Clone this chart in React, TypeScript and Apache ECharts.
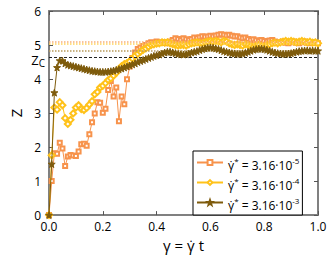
import React, { useEffect, useRef } from "react";
import * as echarts from "echarts";

const strain = [
  0, 0.01, 0.02, 0.03, 0.04, 0.05, 0.06, 0.07, 0.08, 0.09,
  0.1, 0.11, 0.12, 0.13, 0.14, 0.15, 0.16, 0.17, 0.18, 0.19,
  0.2, 0.21, 0.22, 0.23, 0.24, 0.25, 0.26, 0.27, 0.28, 0.29,
  0.3, 0.31, 0.32, 0.33, 0.34, 0.35, 0.36, 0.37, 0.38, 0.39,
  0.4, 0.41, 0.42, 0.43, 0.44, 0.45, 0.46, 0.47, 0.48, 0.49,
  0.5, 0.51, 0.52, 0.53, 0.54, 0.55, 0.56, 0.57, 0.58, 0.59,
  0.6, 0.61, 0.62, 0.63, 0.64, 0.65, 0.66, 0.67, 0.68, 0.69,
  0.7, 0.71, 0.72, 0.73, 0.74, 0.75, 0.76, 0.77, 0.78, 0.79,
  0.8, 0.81, 0.82, 0.83, 0.84, 0.85, 0.86, 0.87, 0.88, 0.89,
  0.9, 0.91, 0.92, 0.93, 0.94, 0.95, 0.96, 0.97, 0.98, 0.99,
  1.0,
];

const zSlow = [
  0, 1.0, 1.82, 1.8, 2.13, 1.96, 1.44, 1.72, 1.77, 1.75,
  1.74, 1.87, 2.08, 2.1, 2.04, 2.38, 2.73, 2.99, 3.32, 3.3,
  3.01, 3.13, 3.68, 3.94, 3.49, 3.75, 2.76, 3.49, 3.26, 3.99,
  4.37, 4.62, 4.78, 4.88, 4.93, 4.97, 5.0, 5.05, 5.08, 5.05,
  5.1, 5.08, 5.06, 5.08, 5.05, 5.1, 5.15, 5.2, 5.18, 5.15,
  5.2, 5.17, 5.15, 5.18, 5.22, 5.2, 5.23, 5.26, 5.24, 5.25,
  5.27, 5.25, 5.28, 5.3, 5.32, 5.3, 5.28, 5.3, 5.27, 5.25,
  5.26, 5.22, 5.2, 5.22, 5.18, 5.15, 5.17, 5.14, 5.12, 5.15,
  5.12, 5.1, 5.13, 5.15, 5.1, 5.06, 5.08, 5.1, 5.07, 5.05,
  5.08, 5.1, 5.07, 5.05, 5.08, 5.1, 5.07, 5.05, 5.08, 5.06,
  5.05,
];

const zMid = [
  0, 1.76, 3.16, 3.1, 3.32, 3.23, 2.85, 2.68, 2.8, 2.99,
  3.16, 3.23, 3.12, 3.09, 3.15, 3.25, 3.35, 3.55, 3.62, 3.75,
  3.8, 3.88, 3.97, 4.02, 4.1, 4.18, 4.28, 4.38, 4.44, 4.47,
  4.52, 4.6, 4.68, 4.74, 4.8, 4.86, 4.9, 4.95, 5.0, 5.02,
  5.04, 5.05, 5.08, 5.07, 5.08, 5.05, 5.02, 5.0, 4.98, 5.0,
  5.0, 4.98, 5.02, 5.05, 5.06, 5.08, 5.06, 5.05, 5.08, 5.1,
  5.12, 5.1, 5.12, 5.1, 5.08, 5.12, 5.1, 5.05, 5.02, 5.0,
  5.02, 5.0, 4.98, 5.02, 5.0, 4.97, 4.95, 4.98, 5.0, 4.97,
  4.96, 5.0, 5.02, 5.05, 5.07, 5.05, 5.08, 5.1, 5.12, 5.1,
  5.12, 5.1, 5.08, 5.1, 5.12, 5.1, 5.08, 5.1, 5.07, 5.08,
  5.05,
];

const zFast = [
  0, 1.5, 3.6, 4.34, 4.54, 4.54, 4.46, 4.42, 4.4, 4.38,
  4.36, 4.34, 4.32, 4.3, 4.28, 4.26, 4.24, 4.23, 4.22, 4.21,
  4.21, 4.21, 4.22, 4.23, 4.25, 4.27, 4.29, 4.31, 4.34, 4.37,
  4.4, 4.43, 4.46, 4.5, 4.53, 4.56, 4.59, 4.62, 4.65, 4.68,
  4.7, 4.72, 4.75, 4.78, 4.8, 4.8, 4.78, 4.76, 4.74, 4.73,
  4.72, 4.73, 4.75, 4.78, 4.8, 4.82, 4.85, 4.88, 4.9, 4.92,
  4.93, 4.92, 4.9, 4.88, 4.85, 4.82, 4.8, 4.78, 4.76, 4.75,
  4.74, 4.74, 4.75, 4.77, 4.8, 4.83, 4.86, 4.88, 4.89, 4.89,
  4.88, 4.86, 4.83, 4.8, 4.78, 4.76, 4.75, 4.74, 4.74, 4.75,
  4.76, 4.78, 4.8, 4.82, 4.83, 4.84, 4.84, 4.83, 4.84, 4.83,
  4.83,
];

const seriesNames = ["r5", "r4", "r3"];
const legendExponents = ["-5", "-4", "-3"];
const seriesColors = ["#F7934C", "#FFC21A", "#7E5B0C"];
const plateauLevels = [5.1, 5.05, 4.82];
const plateauColors = ["#F9B07A", "#FFD35C", "#B89A5C"];
const zCritical = 4.65;
const xTicks = [0, 0.2, 0.4, 0.6, 0.8, 1.0];
const yTicks = [0, 1, 2, 3, 4, 5, 6];

const STAR =
  "path://M0,-10L2.35,-3.24L9.51,-3.09L3.8,1.24L5.88,8.09L0,4L-5.88,8.09L-3.8,1.24L-9.51,-3.09L-2.35,-3.24Z";

const FONT = "Open Sans";
const AXIS_GRAY = "#808080";

export default function App() {
  const ref = useRef<HTMLDivElement>(null);
  useEffect(() => {
    if (!ref.current) return;
    const chart = echarts.init(ref.current, undefined, { renderer: "svg" });
    const pairs = (ys: number[]) => ys.map((y, i) => [strain[i], y]);
    const frameAxis = {
      axisLine: { show: true, onZero: false, lineStyle: { color: AXIS_GRAY, width: 2 } },
      axisTick: { show: true, inside: true, length: 4, lineStyle: { color: "#555", width: 1 } },
      splitLine: { show: false },
    };
    const symbols = ["emptyRect", "emptyDiamond", STAR];
    const sizes = [4, 6, 7];
    const datas = [zSlow, zMid, zFast];
    const dataSeries = seriesNames.map((name, k) => ({
      name,
      type: "line",
      data: pairs(datas[k]),
      symbol: symbols[k],
      symbolSize: sizes[k],
      showAllSymbol: true,
      z: 3 + k,
      lineStyle: { color: seriesColors[k], width: 1 },
      itemStyle: { color: seriesColors[k], borderColor: seriesColors[k], borderWidth: 1 },
    }));
    const refSeries = {
      name: "refs",
      type: "line",
      data: [],
      z: 1,
      markLine: {
        silent: true,
        symbol: "none",
        animation: false,
        data: [
          ...plateauLevels.map((v, k) => ({
            yAxis: v,
            lineStyle: { color: plateauColors[k], type: [1.5, 1.5], width: 1.5 },
            label: { show: false },
          })),
          {
            yAxis: zCritical,
            lineStyle: { color: "#222", type: [3, 2], width: 1 },
            label: {
              show: true,
              position: "start",
              distance: 4,
              offset: [0, 3],
              formatter: "Z{sub|C}",
              color: "#000",
              fontFamily: FONT,
              fontSize: 13,
              rich: { sub: { fontSize: 10, fontFamily: FONT, color: "#000", padding: [6, 0, 0, 0] } },
            },
          },
        ],
      },
    };
    chart.setOption({
      animation: false,
      textStyle: { fontFamily: FONT },
      grid: { left: 49, right: 14, top: 11, bottom: 35, containLabel: false },
      legend: {
        data: seriesNames,
        orient: "vertical",
        left: 193,
        top: 151,
        padding: [5, 3, 4, 3],
        itemGap: 5,
        itemWidth: 26,
        itemHeight: 6,
        borderColor: "#000",
        borderWidth: 1,
        backgroundColor: "#fff",
        formatter: (name: string) => {
          const k = seriesNames.indexOf(name);
          return "{t|γ̇}{s|*}{t| = 3.16·10}{s|" + legendExponents[k] + "}";
        },
        textStyle: {
          fontFamily: FONT,
          fontSize: 12,
          color: "#000",
          rich: {
            t: { fontSize: 12, fontFamily: FONT, color: "#000", verticalAlign: "bottom", lineHeight: 17 },
            s: { fontSize: 8, fontFamily: FONT, color: "#000", verticalAlign: "bottom", lineHeight: 17, padding: [0, 0, 7, 0] },
          },
        },
      },
      xAxis: [
        {
          type: "value",
          min: 0,
          max: 1,
          interval: 0.2,
          position: "bottom",
          ...frameAxis,
          axisLabel: {
            color: "#000",
            fontSize: 12,
            fontFamily: FONT,
            margin: 5,
            formatter: (v: number) => (xTicks.includes(Math.round(v * 10) / 10) ? v.toFixed(1) : ""),
          },
          name: "γ = γ̇ t",
          nameLocation: "middle",
          nameGap: 21,
          nameTextStyle: { color: "#000", fontSize: 15, fontFamily: FONT },
        },
        {
          type: "value",
          min: 0,
          max: 1,
          interval: 0.2,
          position: "top",
          ...frameAxis,
          axisLabel: { show: false },
        },
      ],
      yAxis: [
        {
          type: "value",
          min: 0,
          max: 6,
          interval: 1,
          position: "left",
          ...frameAxis,
          axisLabel: {
            color: "#000",
            fontSize: 12,
            lineHeight: 10,
            fontFamily: FONT,
            margin: 8,
            formatter: (v: number) => (yTicks.includes(v) ? String(v) : ""),
          },
          name: "Z",
          nameLocation: "middle",
          nameGap: 21,
          nameTextStyle: { color: "#000", fontSize: 15, fontFamily: FONT },
        },
        {
          type: "value",
          min: 0,
          max: 6,
          interval: 1,
          position: "right",
          ...frameAxis,
          axisLabel: { show: false },
        },
      ],
      series: [refSeries, ...dataSeries],
    });
    return () => chart.dispose();
  }, []);
  return (
    <div
      ref={ref}
      style={{ position: "fixed", left: 0, top: 0, width: 332, height: 257, background: "#fff" }}
    />
  );
}
